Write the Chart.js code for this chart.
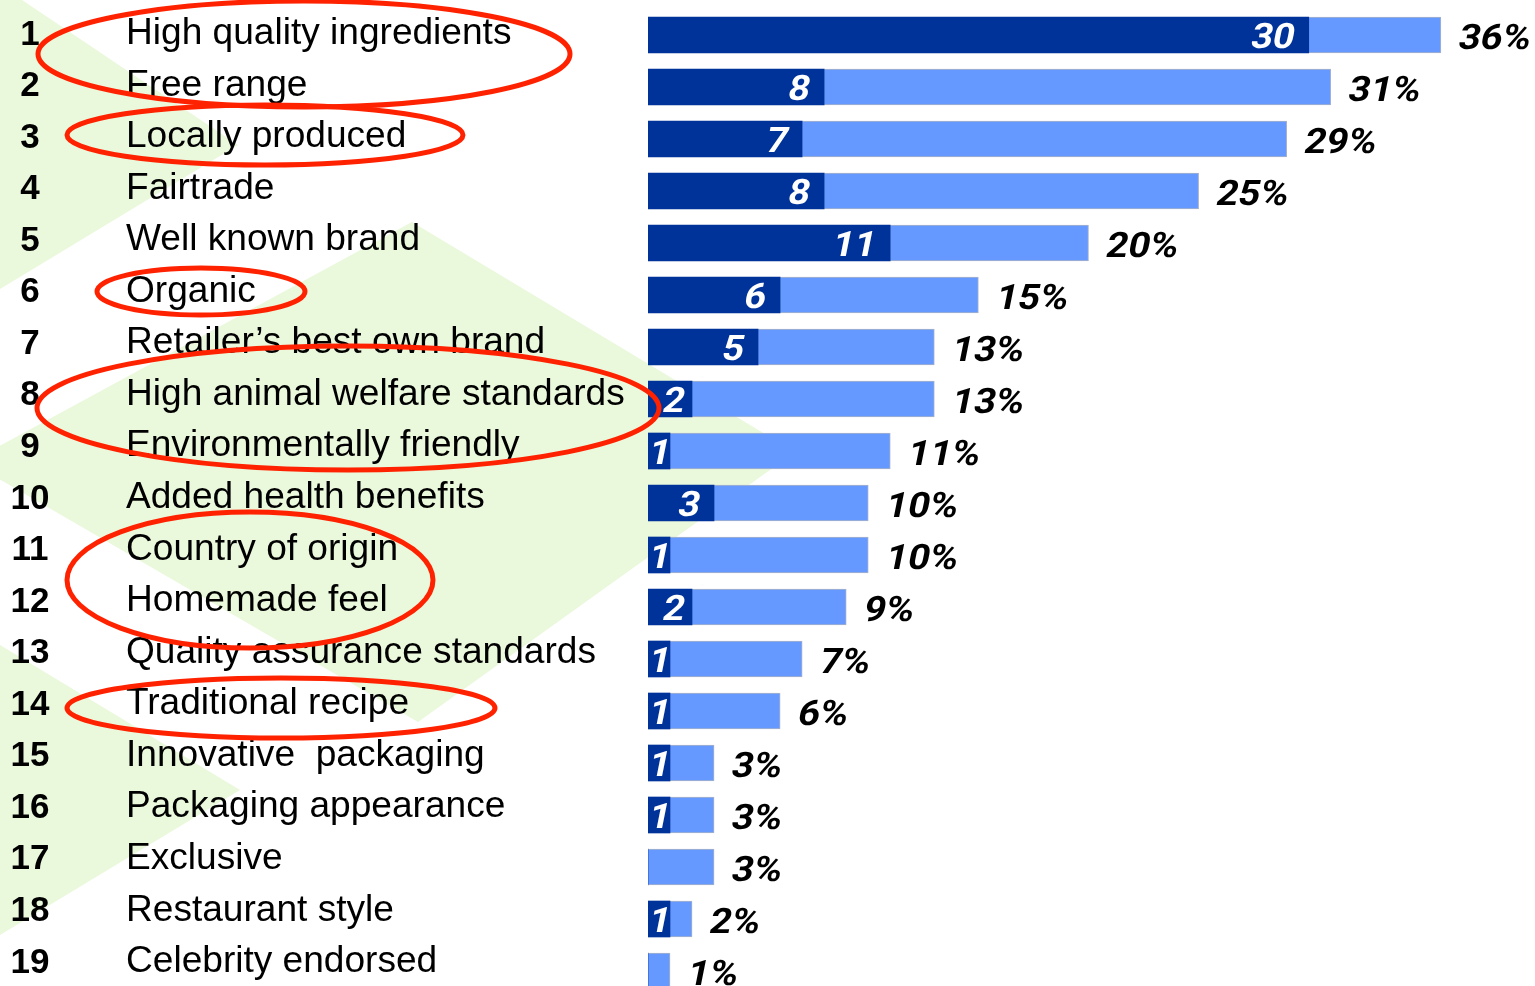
<!DOCTYPE html>
<html>
<head>
<meta charset="utf-8">
<script src="https://cdn.jsdelivr.net/npm/chart.js@4.4.1/dist/chart.umd.min.js"></script>
<style>
html,body{margin:0;padding:0;background:#fff;overflow:hidden;width:1535px;height:986px}
canvas{display:block}
</style>
</head>
<body>
<canvas id="c" width="1535" height="1000"></canvas>
<script>
// ---------------- data ----------------
const ranks = ['1','2','3','4','5','6','7','8','9','10','11','12','13','14','15','16','17','18','19'];
const attributes = [
  'High quality ingredients','Free range','Locally produced','Fairtrade','Well known brand',
  'Organic','Retailer\u2019s best own brand','High animal welfare standards','Environmentally friendly',
  'Added health benefits','Country of origin','Homemade feel','Quality assurance standards',
  'Traditional recipe','Innovative  packaging','Packaging appearance','Exclusive','Restaurant style',
  'Celebrity endorsed'
];
const firstChoice = [30,8,7,8,11,6,5,2,1,3,1,2,1,1,1,1,0,1,0];
const totalShare  = [36,31,29,25,20,15,13,13,11,10,10,9,7,6,3,3,3,2,1];
const circledGroups = [[0,1],[2],[5],[7,8],[10,11],[13]];

// derived for the stacked chart
const otherShare = totalShare.map((t,i)=>t-firstChoice[i]);

// ---------------- styles ----------------
const DARK = '#003399', LIGHT = '#6699FF', GREEN = '#EAF8DC', RED = '#FF2200';
const FONT = '"Liberation Sans", Arial, sans-serif';
const NUMFONT = 'Roboto, "Liberation Sans", Arial, sans-serif';
const bgShapes = [
  [[0,0],[22,0],[238,145],[0,289]],
  [[-30,462],[412,222],[795,452],[418,722]],
  [[0,645],[240,790],[0,935]]
];
const ellipseStyles = [
  {cx:304, rx:266, ry:53, dy:-7},
  {cx:265, rx:198, ry:30, dy:-4},
  {cx:201, rx:104, ry:23.5, dy:-3.5},
  {cx:348, rx:311, ry:62, dy:-17},
  {cx:250, rx:183, ry:68, dy:-1},
  {cx:281, rx:214, ry:30, dy:-3}
];

function sText(ctx, str, x, y, sx, align, skew){
  const w = ctx.measureText(str).width * sx;
  const left = align === 'left' ? x : (align === 'right' ? x - w : x - w/2);
  ctx.save();
  ctx.translate(left, y);
  if (skew) ctx.transform(1, 0, -skew, 1, 0, 0);
  ctx.scale(sx, 1);
  ctx.textAlign = 'left';
  ctx.textBaseline = 'alphabetic';
  ctx.fillText(str, 0, 0);
  ctx.restore();
  return w;
}

const decor = {
  id: 'decor',
  beforeDraw(chart){
    const ctx = chart.ctx;
    ctx.save();
    ctx.fillStyle = '#ffffff';
    ctx.fillRect(0, 0, chart.width, chart.height);
    ctx.fillStyle = GREEN;
    for (const poly of bgShapes){
      ctx.beginPath();
      poly.forEach(([px,py],k)=> k ? ctx.lineTo(px,py) : ctx.moveTo(px,py));
      ctx.closePath();
      ctx.fill();
    }
    ctx.restore();
  },
  afterDatasetsDraw(chart){
    const ctx = chart.ctx, ys = chart.scales.y, xs = chart.scales.x;
    ctx.save();
    // rank numbers and attribute labels
    attributes.forEach((lab,i)=>{
      const py = ys.getPixelForValue(i);
      ctx.fillStyle = '#000';
      ctx.font = 'bold 35px ' + FONT;
      sText(ctx, ranks[i], 30, py + 9.5 - 0.44*i, 1.0, 'center');
      ctx.font = '36px ' + FONT;
      sText(ctx, lab, 126, py + 9 - 0.44*i, 1.03, 'left');
    });
    // value labels (bold, slanted)
    attributes.forEach((lab,i)=>{
      const py = ys.getPixelForValue(i);
      const x0 = xs.getPixelForValue(0);
      const xd = xs.getPixelForValue(firstChoice[i]);
      const xt = xs.getPixelForValue(totalShare[i]);
      if (firstChoice[i] > 0){
        ctx.fillStyle = '#fff';
        ctx.font = 'bold 35px ' + NUMFONT;
        const txt = String(firstChoice[i]);
        const tw = ctx.measureText(txt).width * 1.08;
        const segW = xd - x0;
        const pad = Math.max(1, Math.min(16, (segW - tw)/2 - 2));
        sText(ctx, txt, xd - pad, py + 13, 1.08, 'right', 0.2);
      }
      ctx.fillStyle = '#000';
      ctx.font = 'bold 35px ' + NUMFONT;
      sText(ctx, totalShare[i] + '%', xt + 16, py + 13.5, 1.09, 'left', 0.2);
    });
    // highlight ellipses
    ctx.strokeStyle = RED;
    ctx.lineWidth = 5;
    circledGroups.forEach((rows,k)=>{
      const st = ellipseStyles[k];
      const cy = rows.reduce((s,r)=>s + ys.getPixelForValue(r), 0)/rows.length + st.dy;
      ctx.beginPath();
      ctx.ellipse(st.cx, cy, st.rx, st.ry, 0, 0, Math.PI*2);
      ctx.stroke();
    });
    ctx.restore();
  }
};

new Chart(document.getElementById('c'), {
  type: 'bar',
  data: {
    labels: attributes,
    datasets: [
      {label:'First choice', data:firstChoice, backgroundColor:DARK, borderWidth:0, barThickness:36, stack:'s'},
      {label:'Important', data:otherShare, backgroundColor:LIGHT, borderColor:'#AAB4C8',
       borderWidth:{top:1,bottom:1,right:1,left:0}, borderSkipped:false, barThickness:36, stack:'s'}
    ]
  },
  options: {
    indexAxis: 'y',
    responsive: false,
    animation: false,
    devicePixelRatio: 1,
    layout: {padding:{left:648, right:6, top:9, bottom:3}},
    plugins: {legend:{display:false}, tooltip:{enabled:false}},
    scales: {
      x: {display:false, stacked:true, min:0, max:40},
      y: {display:false, stacked:true}
    }
  },
  plugins: [decor]
});
</script>
</body>
</html>
